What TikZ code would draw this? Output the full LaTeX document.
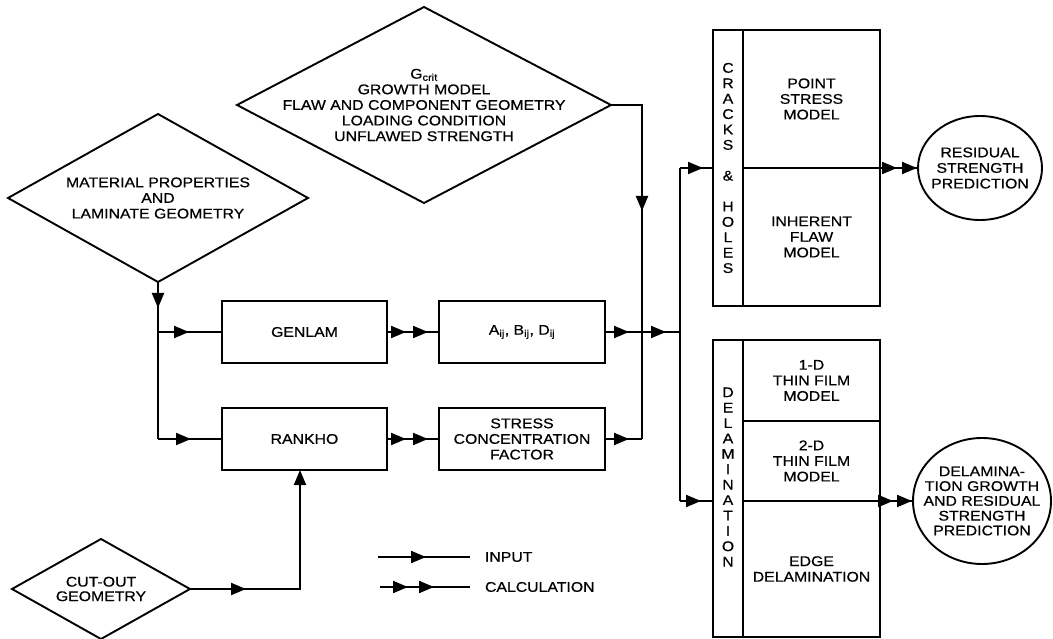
\documentclass[tikz,border=0pt]{standalone}
\usepackage{fontspec}
\setmainfont{Liberation Sans}[FakeStretch=1.13,FakeBold=0.6]
\usetikzlibrary{arrows.meta,shapes.geometric,decorations.markings}
\newcommand{\chartfont}{\fontsize{14}{15.6}\selectfont}
\newcommand{\colfont}{\fontsize{14}{15.4}\selectfont}

\begin{document}
\begin{tikzpicture}[x=1pt,y=-1pt,
  every node/.style={inner sep=0pt, outer sep=0pt},
  shapeline/.style={draw, line width=1.9pt},
  blk/.style={shapeline, rectangle, align=center, font=\chartfont},
  diam/.style={shapeline, diamond},
  oval/.style={shapeline, ellipse},
  txt/.style={align=center, font=\chartfont},
  conn/.style={line width=2pt},
  midhead/.style={postaction={decorate}, decoration={markings,
      mark=at position #1 with {\arrow{Triangle[length=15pt,width=12pt]}}}},
  midheads/.style 2 args={postaction={decorate}, decoration={markings,
      mark=at position #1 with {\arrow{Triangle[length=15pt,width=12pt]}},
      mark=at position #2 with {\arrow{Triangle[length=15pt,width=12pt]}}}},
]
\useasboundingbox (0,0) rectangle (1053,639);

% input diamonds
\node[diam, minimum width=374pt, minimum height=196pt] (topdia) at (424,105) {};
\node[txt] (topdiatext) at (topdia.center)
  {G\textsubscript{crit}\\GROWTH MODEL\\FLAW AND COMPONENT GEOMETRY\\LOADING CONDITION\\UNFLAWED STRENGTH};
\node[diam, minimum width=300pt, minimum height=168pt] (matdia) at (158,198) {};
\node[txt] (matdiatext) at (matdia.center) {MATERIAL PROPERTIES\\AND\\LAMINATE GEOMETRY};
\node[diam, minimum width=178pt, minimum height=100pt] (cutdia) at (101,589) {};
\node[txt, font=\fontsize{14}{14.5}\selectfont] (cutdiatext) at (cutdia.center) {CUT-OUT\\GEOMETRY};

% calculation boxes
\node[blk, minimum width=165pt, minimum height=62pt] (genlam) at (304.5,332) {GENLAM};
\node[blk, minimum width=165pt, minimum height=62pt] (rankho) at (304.5,439) {RANKHO};
\node[blk, minimum width=166pt, minimum height=62pt] (aij) at (522,332)
  {A\textsubscript{ij}, B\textsubscript{ij}, D\textsubscript{ij}};
\node[blk, minimum width=166pt, minimum height=62pt] (scf) at (522,439) {STRESS\\CONCENTRATION\\FACTOR};

% cracks & holes panel
\node[blk, minimum width=30pt, minimum height=276pt, font=\colfont] (crkcol) at (728,168)
  {C\\R\\A\\C\\K\\S\\[15.4pt]\&\\[15.4pt]H\\O\\L\\E\\S};
\node[blk, minimum width=137pt, minimum height=138pt] (pointstress) at (811.5,99) {POINT\\STRESS\\MODEL};
\node[blk, minimum width=137pt, minimum height=138pt] (inherent) at (811.5,237) {INHERENT\\FLAW\\MODEL};

% delamination panel
\node[blk, minimum width=30pt, minimum height=297pt] (dlcol) at (728,488.5) {};
\node[txt, font=\colfont] (dlcoltext) at (728,477) {D\\E\\L\\A\\M\\I\\N\\A\\T\\I\\O\\N};
\node[blk, minimum width=137pt, minimum height=81pt] (thinone) at (811.5,380.5) {1-D\\THIN FILM\\MODEL};
\node[blk, minimum width=137pt, minimum height=80pt] (thintwo) at (811.5,461) {2-D\\THIN FILM\\MODEL};
\node[blk, minimum width=137pt, minimum height=136pt] (edge) at (811.5,569) {EDGE\\DELAMINATION};

% predictions
\node[oval, minimum width=124pt, minimum height=104pt] (resid) at (980,168) {};
\node[txt] (residtext) at (resid.center) {RESIDUAL\\STRENGTH\\PREDICTION};
\node[oval, minimum width=138pt, minimum height=126pt] (delpred) at (982,501) {};
\node[txt, font=\fontsize{14}{14.8}\selectfont] (delpredtext) at (delpred.center)
  {DELAMINA-\\TION GROWTH\\AND RESIDUAL\\STRENGTH\\PREDICTION};

% junctions
\coordinate (mj1) at (matdia.south |- genlam.west);
\coordinate (mj2) at (matdia.south |- rankho.west);
\coordinate (tc1) at (642,105);
\coordinate (tc2) at (tc1 |- scf.east);
\coordinate (bustop) at (680,168);
\coordinate (busmid) at (680,332);
\coordinate (busbot) at (680,501);
\coordinate (cj) at (300,589);

% material properties feed
\draw[conn, midhead=26pt] (matdia.south) -- (mj2);
\draw[conn, midhead=31pt] (mj1) -- (genlam.west);
\draw[conn, midhead=33pt] (mj2) -- (rankho.west);
\draw[conn, midheads={19pt}{41pt}] (genlam.east) -- (aij.west);
\draw[conn, midheads={19pt}{41pt}] (rankho.east) -- (scf.west);

% cut-out geometry feed
\draw[conn, midhead=56pt, -{Triangle[length=15pt,width=12pt]}] (cutdia.east) -- (cj) -- (cj |- rankho.south);

% G_crit feed and bus
\draw[conn, midhead=137pt] (topdia.east) -- (tc1) -- (tc2);
\draw[conn, midhead=24pt] (scf.east) -- (tc2);
\draw[conn, midheads={24pt}{61pt}] (aij.east) -- (busmid);
\draw[conn] (bustop) -- (busbot);
\draw[conn, midhead=23pt] (bustop) -- (crkcol.west);
\draw[conn, midhead=21pt] (busbot) -- (dlcol.west |- busbot);

% outputs
\draw[conn, midheads={17pt}{37pt}] (pointstress.south east) -- (resid.west);
\draw[conn, midheads={13pt}{32pt}] (thintwo.south east) -- (delpred.west);

% legend
\coordinate (inA) at (378,557);
\coordinate (inB) at (470,557);
\coordinate (calcA) at (380,587);
\coordinate (calcB) at (470,587);
\draw[conn, midhead=48pt] (inA) -- (inB);
\node[txt, anchor=west] (inputlbl) at (485,557) {INPUT};
\draw[conn, midheads={28pt}{54pt}] (calcA) -- (calcB);
\node[txt, anchor=west] (calclbl) at (485,587) {CALCULATION};
\end{tikzpicture}
\end{document}
